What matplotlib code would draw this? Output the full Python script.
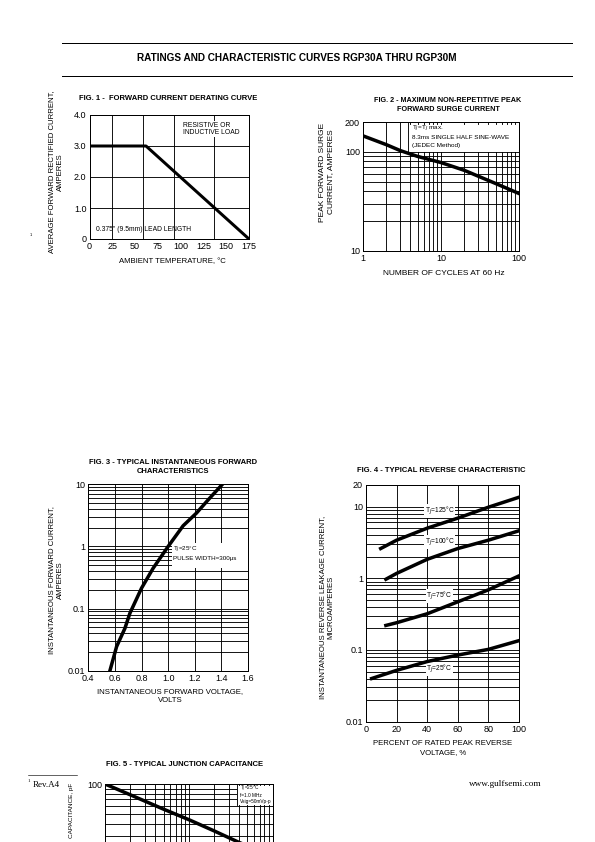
import matplotlib
matplotlib.use("Agg")
import matplotlib.pyplot as plt
import numpy as np
from matplotlib.patches import Rectangle

plt.rcParams['font.family'] = ['Liberation Sans', 'DejaVu Sans']

W, H = 595, 842

# ---------------- data ----------------
# Fig 1 - derating
fig1_temp = [0, 62, 175]
fig1_current = [3.0, 3.0, 0.0]
fig1_xticks = [0, 25, 50, 75, 100, 125, 150, 175]
fig1_yticks = [0, 1.0, 2.0, 3.0, 4.0]
fig1_ytick_labels = ["0", "1.0", "2.0", "3.0", "4.0"]
fig1_vgrid = [25, 59, 93, 137]

# Fig 2 - surge current
fig2_cycles = [1, 2, 3, 5, 10, 20, 50, 100]
fig2_current = [145, 118, 103, 90, 78, 65, 48, 38]

# Fig 3 - forward characteristics
fig3_voltage = [0.5625, 0.6125, 0.675, 0.7125, 0.8, 0.8875, 1.0, 1.1125, 1.2125, 1.3, 1.4075]
fig3_current = [0.01, 0.0244, 0.048, 0.084, 0.213, 0.447, 1.0, 2.15, 3.44, 5.6, 10.0]
fig3_xticks = [0.4, 0.6, 0.8, 1.0, 1.2, 1.4, 1.6]

# Fig 4 - reverse characteristics
fig4_pct_125 = [9.6, 20, 40, 60, 80, 100]
fig4_cur_125 = [2.6, 3.4, 5.0, 6.9, 9.8, 13.5]
fig4_pct_100 = [13, 20, 40, 60, 80, 100]
fig4_cur_100 = [0.97, 1.17, 1.84, 2.6, 3.4, 4.6]
fig4_pct_75 = [13, 20, 40, 60, 80, 100]
fig4_cur_75 = [0.22, 0.24, 0.32, 0.47, 0.69, 1.08]
fig4_pct_25 = [3.7, 20, 40, 60, 80, 100]
fig4_cur_25 = [0.040, 0.052, 0.069, 0.085, 0.102, 0.135]
fig4_labels = ["T$_J$=125°C", "T$_J$=100°C", "T$_J$=75°C", "T$_J$=25°C"]
fig4_label_y = [8.7, 3.2, 0.57, 0.054]

# Fig 5 - junction capacitance
fig5_voltage = [1, 2, 5, 10, 20, 40, 100]
fig5_cap = [100, 78, 56, 44, 34, 26, 19]

fig = plt.figure(figsize=(W / 72, H / 72), dpi=72)


def rect(x0, y0, x1, y1):
    return [x0 / W, 1 - y1 / H, (x1 - x0) / W, (y1 - y0) / H]


def ftext(x, y, s, **kw):
    fig.text(x / W, 1 - y / H, s, **kw)


def style(ax):
    for sp in ax.spines.values():
        sp.set_linewidth(1.0)
        sp.set_color('black')
    ax.tick_params(which='both', length=0, labelsize=9, pad=3)


TITLE = dict(fontsize=7.6, fontweight='bold', ha='center', va='center')
LAB = dict(fontsize=7.8, ha='center', va='center')
GRID = dict(color='black', lw=0.9)
ANN = 6.8

# ---------- header ----------
fig.add_artist(plt.Line2D([62 / W, 572 / W], [1 - 43 / H, 1 - 43 / H], color='black', lw=1))
fig.add_artist(plt.Line2D([62 / W, 572 / W], [1 - 76 / H, 1 - 76 / H], color='black', lw=1))
ftext(297, 58, "RATINGS AND CHARACTERISTIC CURVES RGP30A THRU RGP30M", fontsize=10,
      fontweight='bold', ha='center', va='center')

# ---------- Fig 1 ----------
ax1 = fig.add_axes(rect(89.5, 115, 249, 239))
style(ax1)
ax1.set_xlim(0, 175)
ax1.set_ylim(0, 4.0)
ax1.set_xticks(fig1_xticks)
ax1.set_yticks(fig1_yticks)
ax1.set_yticklabels(fig1_ytick_labels)
for v in [1.0, 2.0, 3.0]:
    ax1.axhline(v, **GRID)
for v in fig1_vgrid:
    ax1.axvline(v, **GRID)
ax1.plot(fig1_temp, fig1_current, color='black', lw=3, solid_capstyle='butt', zorder=4)
ax1.text(103, 3.55, "RESISTIVE OR\nINDUCTIVE LOAD", fontsize=ANN, va='center', ha='left',
         linespacing=1.15, zorder=3, bbox=dict(facecolor='white', edgecolor='none', pad=0.5))
ax1.text(7, 0.3, "0.375\" (9.5mm) LEAD LENGTH", fontsize=ANN, va='center', ha='left')
ftext(168, 99, "FIG. 1 -  FORWARD CURRENT DERATING CURVE", **TITLE)
ftext(172, 262, "AMBIENT TEMPERATURE, °C", **LAB)
ftext(56, 172, "AVERAGE FORWARD RECTIFIED CURRENT,\nAMPERES", rotation=90, linespacing=1.2, **LAB)
ftext(31, 235, "1", fontsize=4, ha='center', va='center')

# ---------- Fig 2 ----------
ax2 = fig.add_axes(rect(363, 122, 519, 251))
style(ax2)
ax2.set_xscale('log')
ax2.set_yscale('log')
ax2.set_xlim(1, 100)
ax2.set_ylim(10, 200)
ax2.set_xticks([1, 10, 100])
ax2.set_xticklabels(["1", "10", "100"])
ax2.set_yticks([10, 100, 200])
ax2.set_yticklabels(["10", "100", "200"])
ax2.minorticks_off()
for v in [20, 30, 40, 50, 60, 70, 80, 90, 100]:
    ax2.axhline(v, **GRID)
for v in [2, 3, 4, 5, 6, 7, 8, 9, 10, 20, 30, 40, 50, 60, 70, 80, 90]:
    ax2.axvline(v, **GRID)
ax2.add_patch(Rectangle((3.8, 100), 100 - 3.8, 100, facecolor='white', edgecolor='none', zorder=2.5))
ax2.plot([3.8, 3.8], [100, 200], color='black', lw=0.9, zorder=2.6)
for v in [4, 5, 6, 7, 8, 9, 10, 20, 30, 40, 50, 60, 70, 80, 90]:
    ax2.plot([v, v], [200, 193], color='black', lw=0.9, zorder=2.6)
for yv, s in [(171, "T$_J$=T$_J$ max."), (139, "8.3ms SINGLE HALF SINE-WAVE"), (116, "(JEDEC Method)")]:
    ax2.text(4.2, yv, s, fontsize=6.4, va='center', ha='left', zorder=3)
ax2.plot(fig2_cycles, fig2_current, color='black', lw=3.5, zorder=4)
ftext(448, 100, "FIG. 2 - MAXIMUM NON-REPETITIVE PEAK", **{**TITLE, 'fontsize': 7.3})
ftext(448, 109.5, "FORWARD SURGE CURRENT", **{**TITLE, 'fontsize': 7.3})
ftext(444, 273, "NUMBER OF CYCLES AT 60 Hz", **{**LAB, 'fontsize': 8.4})
ftext(327, 172, "PEAK FORWARD SURGE\nCURRENT, AMPERES", rotation=90, linespacing=1.2,
      **{**LAB, 'fontsize': 8.4})

# ---------- Fig 3 ----------
ax3 = fig.add_axes(rect(88.3, 484.3, 248, 670.7))
style(ax3)
ax3.set_yscale('log')
ax3.set_xlim(0.4, 1.6)
ax3.set_ylim(0.01, 10)
ax3.set_xticks(fig3_xticks)
ax3.set_xticklabels(["0.4", "0.6", "0.8", "1.0", "1.2", "1.4", "1.6"])
ax3.set_yticks([0.01, 0.1, 1, 10])
ax3.set_yticklabels(["0.01", "0.1", "1", "10"])
ax3.minorticks_off()
for dec in [0.01, 0.1, 1]:
    for m in range(2, 11):
        ax3.axhline(dec * m, **GRID)
for v in [0.6, 0.8, 1.0, 1.2, 1.4]:
    ax3.axvline(v, **GRID)
ax3.add_patch(Rectangle((1.03, 0.45), 0.57, 0.67, facecolor='white', edgecolor='none', zorder=2.5))
ax3.text(1.04, 1.06, "T$_J$=25°C\nPULSE WIDTH=300μs", fontsize=6.2, va='top', ha='left',
         linespacing=1.3, zorder=3)
ax3.plot(fig3_voltage, fig3_current, color='black', lw=3.5, zorder=4)
ftext(173, 462, "FIG. 3 - TYPICAL INSTANTANEOUS FORWARD", **TITLE)
ftext(173, 471.5, "CHARACTERISTICS", **TITLE)
ftext(170, 696, "INSTANTANEOUS FORWARD VOLTAGE,\nVOLTS", linespacing=1.3, **LAB)
ftext(56, 580, "INSTANTANEOUS FORWARD CURRENT,\nAMPERES", rotation=90, linespacing=1.2, **LAB)

# ---------- Fig 4 ----------
ax4 = fig.add_axes(rect(366, 485, 519, 721.7))
style(ax4)
ax4.set_yscale('log')
ax4.set_xlim(0, 100)
ax4.set_ylim(0.01, 20)
ax4.set_xticks([0, 20, 40, 60, 80, 100])
ax4.set_yticks([0.01, 0.1, 1, 10, 20])
ax4.set_yticklabels(["0.01", "0.1", "1", "10", "20"])
ax4.minorticks_off()
for dec in [0.01, 0.1, 1]:
    for m in range(2, 11):
        ax4.axhline(dec * m, **GRID)
for v in [20, 40, 60, 80]:
    ax4.axvline(v, **GRID)
for pct, cur in [(fig4_pct_125, fig4_cur_125), (fig4_pct_100, fig4_cur_100),
                 (fig4_pct_75, fig4_cur_75), (fig4_pct_25, fig4_cur_25)]:
    ax4.plot(pct, cur, color='black', lw=3.5, zorder=4)
for lab, yv in zip(fig4_labels, fig4_label_y):
    ax4.text(48, yv, lab, fontsize=6.6, ha='center', va='center', zorder=3,
             bbox=dict(facecolor='white', edgecolor='none', pad=0.6))
ftext(357, 471, "FIG. 4 - TYPICAL REVERSE CHARACTERISTIC", fontsize=7.6, fontweight='bold',
      ha='left', va='center')
ftext(443, 748, "PERCENT OF RATED PEAK REVERSE\nVOLTAGE, %", linespacing=1.3, **LAB)
ftext(327, 607, "INSTANTANEOUS REVERSE LEAKAGE CURRENT,\nMICROAMPERES", rotation=90,
      linespacing=1.2, **LAB)

# ---------- Fig 5 ----------
ax5 = fig.add_axes(rect(105, 784, 272.6, 884))
style(ax5)
ax5.set_xscale('log')
ax5.set_yscale('log')
ax5.set_xlim(1, 100)
ax5.set_ylim(10, 100)
ax5.set_yticks([100])
ax5.set_yticklabels(["100"])
ax5.set_xticks([])
ax5.minorticks_off()
for v in [20, 30, 40, 50, 60, 70, 80, 90]:
    ax5.axhline(v, **GRID)
for v in [2, 3, 4, 5, 6, 7, 8, 9, 10, 20, 30, 40, 50, 60, 70, 80, 90]:
    ax5.axvline(v, **GRID)
ax5.add_patch(Rectangle((38, 62), 62, 38, facecolor='white', edgecolor='none', zorder=2.5))
ax5.plot([38, 38], [62, 100], color='black', lw=0.9, zorder=2.6)
for v in [40, 50, 60, 70, 80, 90]:
    ax5.plot([v, v], [100, 98], color='black', lw=0.9, zorder=2.6)
for yv, s in [(89, "T$_J$=25°C"), (77.5, "f=1.0 MHz"), (67.5, "Vsig=50mVp-p")]:
    ax5.text(41, yv, s, fontsize=4.7, va='center', ha='left', zorder=3)
ax5.plot(fig5_voltage, fig5_cap, color='black', lw=3.5, zorder=4)
ftext(185, 765, "FIG. 5 - TYPICAL JUNCTION CAPACITANCE", **TITLE)
ftext(72, 783, "CAPACITANCE, pF", rotation=90, fontsize=6.4, ha='center', va='top')

# ---------- footer ----------
fig.add_artist(plt.Line2D([28 / W, 77 / W], [1 - 775 / H, 1 - 775 / H], color='black', lw=0.6))
ftext(28, 781, "1", fontsize=5, family='Liberation Serif', ha='left', va='center')
ftext(33, 785, "Rev.A4", fontsize=9, family='Liberation Serif', ha='left', va='center')
ftext(505, 784, "www.gulfsemi.com", fontsize=9.2, family='Liberation Serif', ha='center', va='center')

fig.savefig("out.png", dpi=72)
